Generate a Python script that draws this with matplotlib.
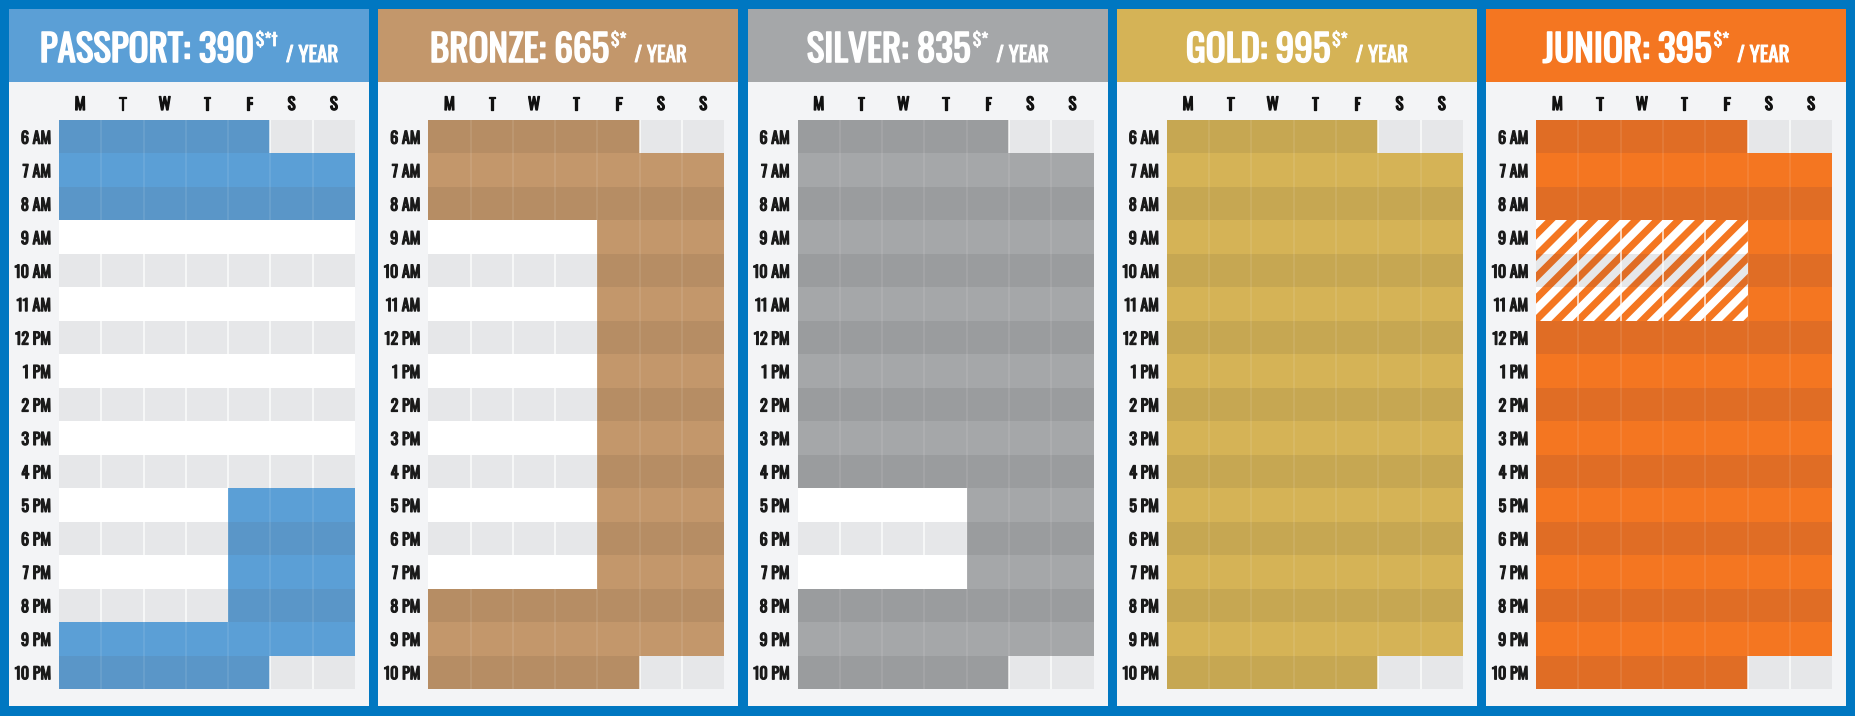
import matplotlib
matplotlib.use('Agg')
import matplotlib.pyplot as plt
from matplotlib.patches import Rectangle
from matplotlib import font_manager
from matplotlib.font_manager import FontProperties
from matplotlib.textpath import TextPath
import matplotlib.patheffects as pe
import numpy as np

installed = font_manager.fontManager.ttflist
names = {f.name for f in installed}
cond = next((n for n in ['Oswald', 'Roboto Condensed', 'Barlow Condensed']
             if n in names), 'DejaVu Sans')
FONT = [cond, 'DejaVu Sans']
plt.rcParams['font.family'] = FONT
plt.rcParams['hatch.linewidth'] = 4.0

days = ['M', 'T', 'W', 'T', 'F', 'S', 'S']
hours = ['6 AM', '7 AM', '8 AM', '9 AM', '10 AM', '11 AM', '12 PM', '1 PM', '2 PM',
         '3 PM', '4 PM', '5 PM', '6 PM', '7 PM', '8 PM', '9 PM', '10 PM']
plans = ['PASSPORT', 'BRONZE', 'SILVER', 'GOLD', 'JUNIOR']
prices = ['390', '665', '835', '995', '395']
marks = ['$*†', '$*', '$*', '$*', '$*']

# one string per hour, one char per day: 1 = open, 0 = closed, r = restricted
passport = ['1111100', '1111111', '1111111', '0000000', '0000000', '0000000',
            '0000000', '0000000', '0000000', '0000000', '0000000', '0000111',
            '0000111', '0000111', '0000111', '1111111', '1111100']
bronze = ['1111100', '1111111', '1111111', '0000111', '0000111', '0000111',
          '0000111', '0000111', '0000111', '0000111', '0000111', '0000111',
          '0000111', '0000111', '1111111', '1111111', '1111100']
silver = ['1111100', '1111111', '1111111', '1111111', '1111111', '1111111',
          '1111111', '1111111', '1111111', '1111111', '1111111', '0000111',
          '0000111', '0000111', '1111111', '1111111', '1111100']
gold = ['1111100', '1111111', '1111111', '1111111', '1111111', '1111111',
        '1111111', '1111111', '1111111', '1111111', '1111111', '1111111',
        '1111111', '1111111', '1111111', '1111111', '1111100']
junior = ['1111100', '1111111', '1111111', 'rrrrr11', 'rrrrr11', 'rrrrr11',
          '1111111', '1111111', '1111111', '1111111', '1111111', '1111111',
          '1111111', '1111111', '1111111', '1111111', '1111100']
schedules = [passport, bronze, silver, gold, junior]

plan_colors = ['#5B9FD6', '#C3976B', '#A5A7A9', '#D5B356', '#F47621']
plan_dark = ['#5A96C8', '#B68D64', '#9A9C9E', '#C6A752', '#E06D25']

W, H = 1855, 716
DPI = 128


def pt(px):
    # pixel size -> points at this dpi
    return px * 72 / DPI


def size_for_cap(cap_px):
    # font size giving a capital H about cap_px tall
    prop = FontProperties(family=FONT, weight='bold')
    cap = TextPath((0, 0), 'H', size=100, prop=prop).get_extents().height / 100
    return pt(cap_px) / cap


def heavy(color, px):
    # the installed face is regular only, thicken the strokes a bit
    return [pe.withStroke(linewidth=pt(px), foreground=color)]


size_title = size_for_cap(30)
size_year = size_for_cap(17)
size_mark = size_for_cap(14)
size_day = size_for_cap(13.5)
size_hour = size_for_cap(13)

fig = plt.figure(figsize=(W / DPI, H / DPI), dpi=DPI, facecolor='#0077C1')
bg = fig.add_axes([0, 0, 1, 1])
bg.set_xlim(0, W)
bg.set_ylim(H, 0)
bg.axis('off')
renderer = fig.canvas.get_renderer()

for i, name in enumerate(plans):
    left = 9 + 369.3 * i
    bg.add_patch(Rectangle((left, 9), 360, 697, facecolor='#F3F4F6', lw=0))
    bg.add_patch(Rectangle((left, 9), 360, 73, facecolor=plan_colors[i], lw=0))

    # title: big name + price, superscript marks, small "/ YEAR"
    t1 = bg.text(0, 62, f'{name}: {prices[i]}', color='white', fontsize=size_title,
                 fontweight='bold', va='baseline', path_effects=heavy('white', 1.6))
    t2 = bg.text(0, 46, marks[i], color='white', fontsize=size_mark,
                 fontweight='bold', va='baseline', path_effects=heavy('white', 0.9))
    t3 = bg.text(0, 62, '/ YEAR', color='white', fontsize=size_year,
                 fontweight='bold', va='baseline', path_effects=heavy('white', 1.0))
    w1 = t1.get_window_extent(renderer).width
    w2 = t2.get_window_extent(renderer).width
    w3 = t3.get_window_extent(renderer).width
    x0 = left + 180 - (w1 + 2 + w2 + 8 + w3) / 2
    t1.set_x(x0)
    t2.set_x(x0 + w1 + 2)
    t3.set_x(x0 + w1 + 2 + w2 + 8)

    gx, gw, gtop, gbot = left + 50, 296, 120, 689
    ax = fig.add_axes([gx / W, 1 - gbot / H, gw / W, (gbot - gtop) / H])
    ax.set_xlim(0, 7)
    ax.set_ylim(17, 0)
    ax.set_facecolor('none')
    for s in ax.spines.values():
        s.set_visible(False)
    ax.xaxis.tick_top()
    ax.set_xticks(np.arange(7) + 0.5)
    ax.set_xticklabels(days, fontsize=size_day, fontweight='bold', color='#111111',
                       path_effects=heavy('#111111', 1.3))
    ax.set_yticks(np.arange(17) + 0.5)
    ax.set_yticklabels(hours, fontsize=size_hour, fontweight='bold', color='#1A1A1A',
                       path_effects=heavy('#1A1A1A', 1.2))
    ax.tick_params(axis='x', length=0, pad=pt(7))
    ax.tick_params(axis='y', length=0, pad=pt(8))

    for r, row in enumerate(schedules[i]):
        dark = r % 2 == 0
        for c, v in enumerate(row):
            if v == '1':
                fc = plan_dark[i] if dark else plan_colors[i]
            else:
                fc = '#E6E7E9' if dark else '#FFFFFF'
            ax.add_patch(Rectangle((c, r), 1, 1, facecolor=fc, lw=0))
            if c > 0:
                ax.plot([c, c], [r, r + 1], color='white',
                        alpha=0.12 if v == '1' else 0.9, lw=pt(1.5),
                        solid_capstyle='butt')
            if v == 'r':
                sc = plan_dark[i] if dark else plan_colors[i]
                ax.add_patch(Rectangle((c, r), 1, 1, facecolor='none',
                                       edgecolor=sc, hatch='//', lw=0))

fig.savefig('out.png', dpi=DPI, facecolor=fig.get_facecolor())
